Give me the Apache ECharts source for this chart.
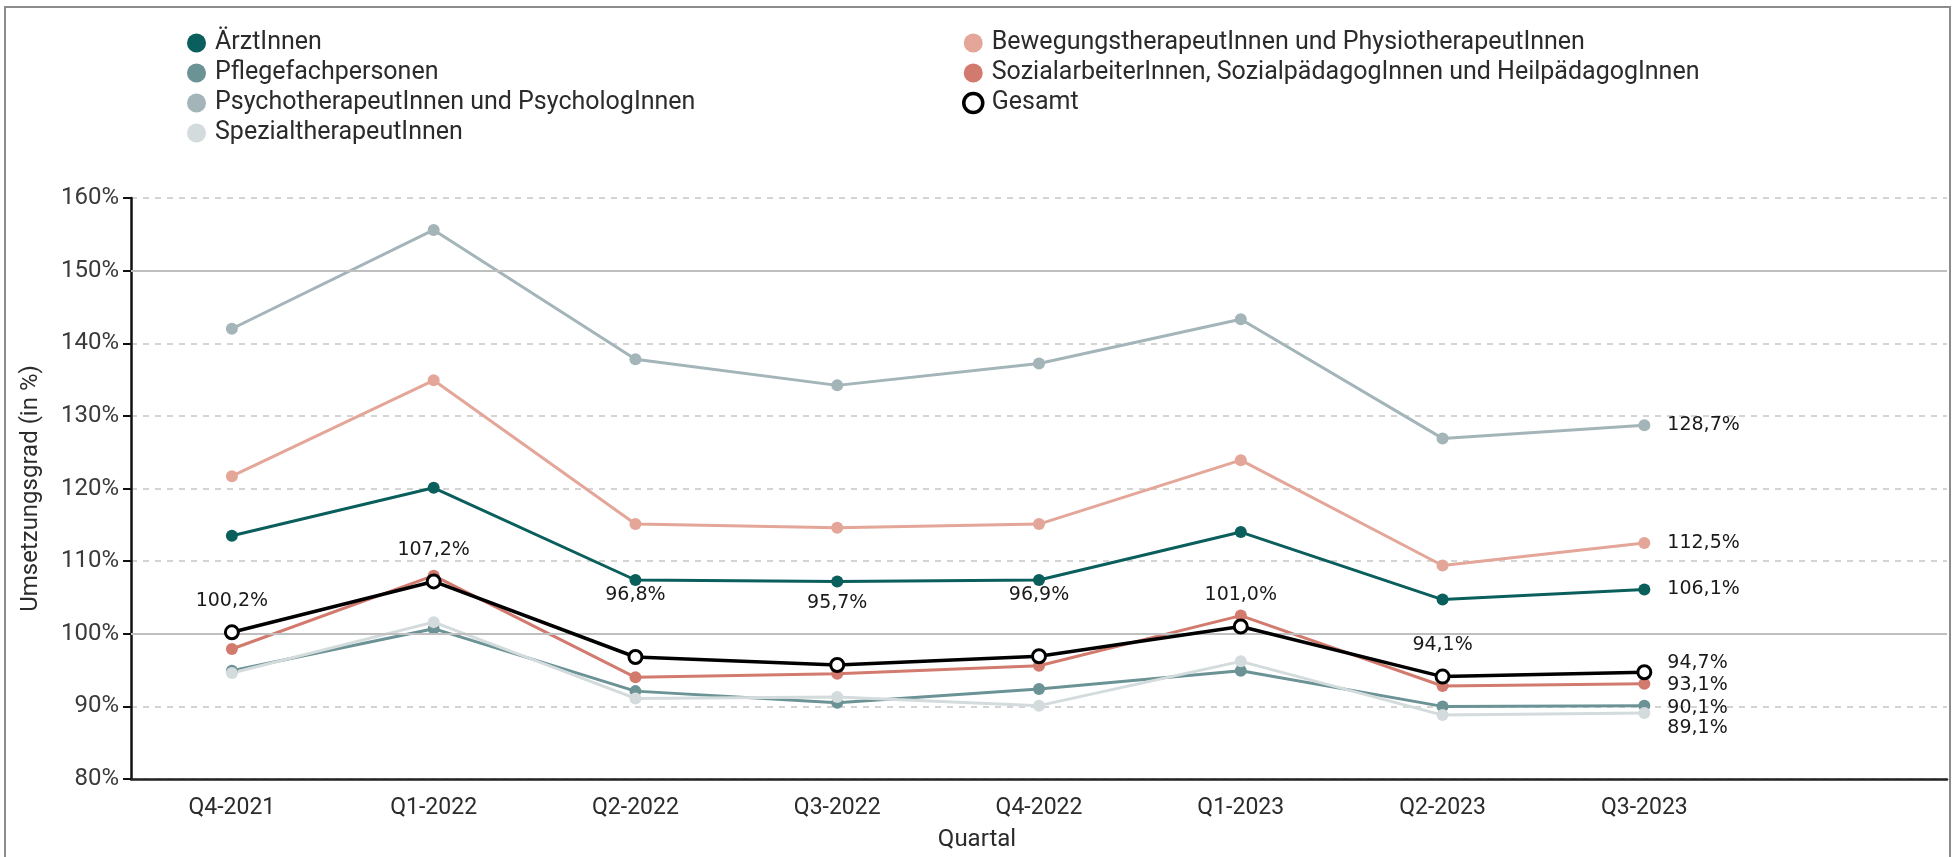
<!DOCTYPE html>
<html lang="de">
<head>
<meta charset="utf-8">
<title>Umsetzungsgrad nach Berufsgruppe</title>
<script src="https://cdn.jsdelivr.net/npm/echarts@6/dist/echarts.min.js"></script>
<style>
  html, body { margin: 0; padding: 0; background: #ffffff; }
  #chart { width: 1954px; height: 857px; }
</style>
</head>
<body>
<div id="chart"></div>
<script>
// Quarters on the x axis
const categories = ['Q4-2021', 'Q1-2022', 'Q2-2022', 'Q3-2022', 'Q4-2022', 'Q1-2023', 'Q2-2023', 'Q3-2023'];

// Umsetzungsgrad per professional group (in %)
const aerzt    = [113.5, 120.1, 107.4, 107.2, 107.4, 114.0, 104.7, 106.1];
const pflege   = [94.9, 100.7, 92.1, 90.5, 92.4, 94.9, 90.0, 90.1];
const psycho   = [142.0, 155.6, 137.8, 134.2, 137.2, 143.3, 126.9, 128.7];
const spezial  = [94.6, 101.6, 91.1, 91.3, 90.1, 96.2, 88.8, 89.1];
const bewegung = [121.7, 134.9, 115.1, 114.6, 115.1, 123.9, 109.4, 112.5];
const sozial   = [97.9, 108.0, 94.0, 94.5, 95.6, 102.5, 92.8, 93.1];
const gesamt   = [100.2, 107.2, 96.8, 95.7, 96.9, 101.0, 94.1, 94.7];

// Y axis range and step
const yMin = 80, yMax = 160, yStep = 10;

const names = {
  aerzt: 'ÄrztInnen',
  pflege: 'Pflegefachpersonen',
  psycho: 'PsychotherapeutInnen und PsychologInnen',
  spezial: 'SpezialtherapeutInnen',
  bewegung: 'BewegungstherapeutInnen und PhysiotherapeutInnen',
  sozial: 'SozialarbeiterInnen, SozialpädagogInnen und HeilpädagogInnen',
  gesamt: 'Gesamt'
};

const colors = {
  aerzt: '#0a5e5c',
  pflege: '#6b9295',
  psycho: '#a3b5b8',
  spezial: '#d3dbdd',
  bewegung: '#e3a698',
  sozial: '#d27a6e',
  gesamt: '#000000'
};

const axisFont = 'Roboto, "Liberation Sans", sans-serif';
const labelFont = '"DejaVu Sans", Verdana, sans-serif';
const fmt = v => v.toFixed(1).replace('.', ',') + '%';

// Vertical nudge of the end labels so that close values stay readable
const endLabelShift = { aerzt: 0, pflege: 2, psycho: 0, spezial: 15, bewegung: 0, sozial: 1, gesamt: -9 };
// Gap between the Gesamt markers and their value labels
const gesamtLabelGap = [14, 14, 44, 44, 44, 14, 14, 14];

// x axis carries one trailing empty slot as room for the end labels
const xCats = categories.concat(['']);
const lastIdx = categories.length - 1;

function endLabelData(key, values) {
  return values.map((v, i) => i === lastIdx ? {
    value: v,
    label: {
      show: true, position: 'right', distance: 17,
      offset: [0, endLabelShift[key]],
      formatter: p => fmt(p.value),
      color: '#1a1a1a', fontFamily: labelFont, fontSize: 19
    }
  } : v);
}

function groupSeries(key, values) {
  return {
    name: names[key],
    type: 'line',
    data: endLabelData(key, values),
    symbol: 'circle',
    symbolSize: 12,
    showSymbol: true,
    lineStyle: { color: colors[key], width: 3 },
    itemStyle: { color: colors[key] },
    emphasis: { disabled: true },
    z: 3
  };
}

const chart = echarts.init(document.getElementById('chart'), null, { renderer: 'canvas' });

const legendText = { fontFamily: axisFont, fontSize: 25, color: '#2b2b2b', lineHeight: 30, padding: [0, 0, 0, 4] };

const option = {
  backgroundColor: '#ffffff',
  animation: false,
  graphic: [{
    type: 'rect',
    silent: true,
    z: -10,
    shape: { x: 5, y: 7, width: 1945, height: 900 },
    style: { fill: 'none', stroke: '#8c8c8c', lineWidth: 2 }
  }],
  legend: [
    {
      orient: 'vertical', left: 182, top: 23, itemGap: 0,
      itemWidth: 19, itemHeight: 19, icon: 'circle',
      textStyle: legendText,
      data: [names.aerzt, names.pflege, names.psycho, names.spezial],
      selectedMode: false
    },
    {
      orient: 'vertical', left: 957, top: 23, itemGap: 0,
      itemWidth: 19, itemHeight: 19, icon: 'circle',
      textStyle: legendText,
      data: [names.bewegung, names.sozial,
        { name: names.gesamt, icon: 'circle', itemStyle: { color: '#ffffff', borderColor: '#000000', borderWidth: 3.5 } }],
      selectedMode: false
    }
  ],
  grid: { left: 131, right: 7, top: 198, bottom: 74, containLabel: false },
  xAxis: {
    type: 'category',
    data: xCats,
    boundaryGap: true,
    name: 'Quartal',
    nameLocation: 'middle',
    nameGap: 49,
    nameTextStyle: { fontFamily: axisFont, fontSize: 24, color: '#2b2b2b', padding: [0, 124, 0, 0] },
    axisLine: { lineStyle: { color: '#222222', width: 2.5 } },
    axisTick: { alignWithLabel: true, length: 10, interval: (idx) => idx <= lastIdx, lineStyle: { color: '#222222', width: 2 } },
    axisLabel: { interval: 0, margin: 18, fontFamily: axisFont, fontSize: 23, color: '#2b2b2b' },
    splitLine: { show: false }
  },
  yAxis: {
    type: 'value',
    min: yMin, max: yMax, interval: yStep,
    name: 'Umsetzungsgrad (in %)',
    nameLocation: 'middle',
    nameRotate: 90,
    nameGap: 88,
    nameTextStyle: { fontFamily: axisFont, fontSize: 24, color: '#2b2b2b' },
    axisLine: { show: true, lineStyle: { color: '#111111', width: 2.5 } },
    axisTick: { show: true, length: 8, lineStyle: { color: '#111111', width: 2 } },
    axisLabel: { margin: 12, fontFamily: axisFont, fontSize: 24, color: '#3a3a3a', formatter: '{value}%' },
    splitLine: { show: true, lineStyle: { color: '#c6c6c6', width: 1.5, type: [6, 6] } }
  },
  series: [
    {
      // solid reference lines at 100 % and 150 %
      type: 'line', data: [], silent: true, z: 1,
      markLine: {
        silent: true, symbol: ['none', 'none'], label: { show: false },
        lineStyle: { color: '#bfbfbf', type: 'solid', width: 1.8 },
        data: [{ yAxis: 100 }, { yAxis: 150 }]
      }
    },
    groupSeries('psycho', psycho),
    groupSeries('bewegung', bewegung),
    groupSeries('aerzt', aerzt),
    groupSeries('pflege', pflege),
    groupSeries('spezial', spezial),
    groupSeries('sozial', sozial),
    {
      name: names.gesamt,
      type: 'line',
      data: gesamt.map((v, i) => ({
        value: v,
        label: i === lastIdx
          ? { position: 'right', distance: 15, offset: [0, endLabelShift.gesamt] }
          : { position: 'top', distance: gesamtLabelGap[i] }
      })),
      symbol: 'circle',
      symbolSize: 13,
      lineStyle: { color: '#000000', width: 3.5 },
      itemStyle: { color: '#ffffff', borderColor: '#000000', borderWidth: 3 },
      label: {
        show: true, position: 'top', distance: 14,
        formatter: p => fmt(p.value),
        color: '#1a1a1a', fontFamily: labelFont, fontSize: 19
      },
      emphasis: { disabled: true },
      z: 5
    }
  ]
};

chart.setOption(option);
</script>
</body>
</html>
